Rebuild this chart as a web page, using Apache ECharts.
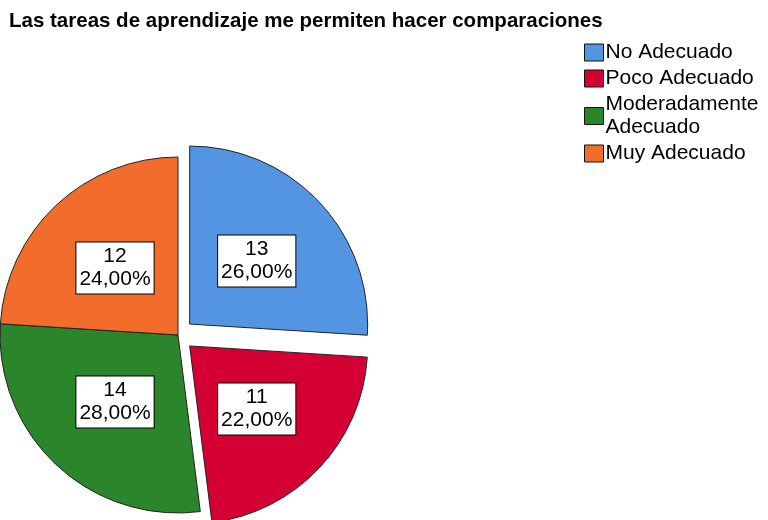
<!DOCTYPE html>
<html>
<head>
<meta charset="utf-8">
<script src="https://cdn.jsdelivr.net/npm/echarts@6/dist/echarts.min.js"></script>
<style>html,body{margin:0;padding:0;background:#fff}#c{width:768px;height:520px}</style>
</head>
<body>
<div id="c"></div>
<script>
const titleText = "Las tareas de aprendizaje me permiten hacer comparaciones";
const categories = ["No Adecuado", "Poco Adecuado", "Moderadamente\nAdecuado", "Muy Adecuado"];
const counts = [13, 11, 14, 12];
const exploded = [true, true, false, false];
const colors = ["#5495E3", "#D40033", "#2B852B", "#F26C2C"];

const chart = echarts.init(document.getElementById('c'), null, {renderer: 'canvas'});
const font = '"Liberation Sans", Arial, sans-serif';
chart.setOption({
  animation: false,
  title: {
    text: titleText, left: 9, top: 11, padding: 0,
    textStyle: {fontFamily: font, fontSize: 20.5, fontWeight: 'bold', color: '#000'}
  },
  legend: {
    orient: 'vertical', left: 584, top: 41, padding: 0, selectedMode: false,
    itemWidth: 19, itemHeight: 17, itemGap: 3,
    icon: 'rect',
    itemStyle: {borderColor: '#111', borderWidth: 1},
    textStyle: {fontFamily: font, fontSize: 21, lineHeight: 23, color: '#000', padding: [0,0,0,-3]},
    data: categories
  },
  series: [{
    type: 'pie',
    center: [178, 335],
    radius: 178,
    startAngle: 90,
    clockwise: true,
    selectedMode: 'multiple',
    selectedOffset: 16,
    emphasis: {disabled: true},
    itemStyle: {borderColor: '#222', borderWidth: 1},
    label: {
      position: 'inside',
      fontFamily: font, fontSize: 21, lineHeight: 23, color: '#000',
      backgroundColor: '#fff', borderColor: '#000', borderWidth: 1,
      padding: [3, 3, 2, 3], align: 'center',
      formatter: p => p.value + '\n' + p.percent.toFixed(2).replace('.', ',') + '%'
    },
    labelLine: {show: false},
    data: categories.map((c, i) => ({name: c, value: counts[i], selected: exploded[i], itemStyle: {color: colors[i]}}))
  }]
});
</script>
</body>
</html>
